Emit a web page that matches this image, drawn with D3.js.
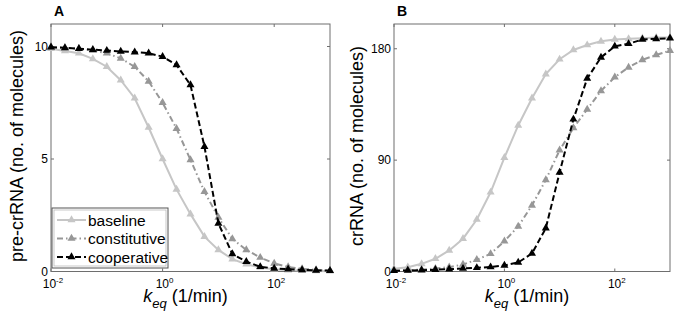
<!DOCTYPE html>
<html>
<head>
<meta charset="utf-8">
<script src="https://cdn.jsdelivr.net/npm/d3@7"></script>
<style>
  body { margin: 0; background: #fff; }
  text { font-family: "Liberation Sans", Arial, sans-serif; fill: #000; }
</style>
</head>
<body>
<div id="chart"></div>
<script>
// set svg parameters
const width = 680,
      height = 327;

// k_eq sampled every quarter decade (log10 exponents)
const logK = [-2, -1.75, -1.5, -1.25, -1, -0.75, -0.5, -0.25, 0, 0.25, 0.5,
              0.75, 1, 1.25, 1.5, 1.75, 2, 2.25, 2.5, 2.75, 3];

const seriesNames = ["baseline", "constitutive", "cooperative"];

// panel A: pre-crRNA
const preBaseline = [9.9, 9.8, 9.7, 9.45, 9.1, 8.5, 7.7, 6.4, 5.0, 3.65, 2.55,
                     1.55, 0.96, 0.55, 0.32, 0.18, 0.1, 0.06, 0.04, 0.02, 0.01];
const preConstitutive = [9.97, 9.94, 9.9, 9.82, 9.7, 9.47, 9.1, 8.45, 7.5, 6.35, 4.96,
                         3.55, 2.4, 1.45, 0.96, 0.62, 0.36, 0.2, 0.12, 0.07, 0.04];
const preCooperative = [9.97, 9.94, 9.9, 9.86, 9.82, 9.78, 9.75, 9.7, 9.55, 9.18, 8.29,
                        5.55, 2.14, 0.78, 0.44, 0.21, 0.14, 0.1, 0.07, 0.05, 0.04];

// panel B: crRNA
const crBaseline = [2.2, 3.5, 6.2, 10.3, 17, 26.5, 42, 64, 92, 118, 140,
                    159.5, 171.5, 179, 183, 186, 187.5, 188, 188.5, 189, 189];
const crConstitutive = [0.7, 1.0, 1.6, 2.4, 3.5, 5.7, 9.5, 14.3, 24.5, 36.4, 53.4,
                        74, 98, 116, 131, 146, 157, 165, 171, 175, 178.5];
const crCooperative = [0.6, 0.8, 1.0, 1.4, 1.9, 2.4, 3.0, 3.6, 4.9, 7.3, 14.6,
                       35, 80, 123, 156, 173, 182, 184, 187.5, 188, 188.5];

const xTicks = [1e-2, 1e0, 1e2];
const xTickExp = ["-2", "0", "2"];

const svg = d3.select("#chart")
  .append("svg")
    .attr("width", width)
    .attr("height", height);

// line styles per series
const styles = {
  baseline:     { color: "#c6c6c6", dash: null },
  constitutive: { color: "#979797", dash: "6,3,1.5,3" },
  cooperative:  { color: "#000000", dash: "6,3" }
};

const triangle = d3.symbol().type(d3.symbolTriangle).size(28);

const panels = [
  { letter: "A", left: 51, right: 330, yMax: 11, yTicks: [0, 5, 10],
    ylabel: "pre-crRNA (no. of molecules)", labelX: 17,
    values: [preBaseline, preConstitutive, preCooperative], legend: true },
  { letter: "B", left: 394, right: 670, yMax: 200, yTicks: [0, 90, 180],
    ylabel: "crRNA (no. of molecules)", labelX: 357,
    values: [crBaseline, crConstitutive, crCooperative], legend: false }
];

const plotTop = 24, plotBottom = 271.5;

panels.forEach(function(p) {
  const g = svg.append("g");

  const x = d3.scaleLog().domain([1e-2, 1e3]).range([p.left, p.right]);
  const y = d3.scaleLinear().domain([0, p.yMax]).range([plotBottom, plotTop]);

  // frame
  g.append("rect")
    .attr("x", p.left).attr("y", plotTop)
    .attr("width", p.right - p.left).attr("height", plotBottom - plotTop)
    .attr("fill", "none").attr("stroke", "#6e6e6e").attr("stroke-width", 1);

  // inward ticks on all four sides
  xTicks.forEach(function(t) {
    [plotBottom, plotTop].forEach(function(yy, i) {
      g.append("line")
        .attr("x1", x(t)).attr("x2", x(t))
        .attr("y1", yy).attr("y2", i === 0 ? yy - 3 : yy + 3)
        .attr("stroke", "#6e6e6e");
    });
  });
  p.yTicks.forEach(function(t) {
    [p.left, p.right].forEach(function(xx, i) {
      g.append("line")
        .attr("x1", xx).attr("x2", i === 0 ? xx + 3 : xx - 3)
        .attr("y1", y(t)).attr("y2", y(t))
        .attr("stroke", "#6e6e6e");
    });
  });

  // y tick labels
  g.selectAll(".ylab")
    .data(p.yTicks)
    .join("text")
      .attr("class", "ylab")
      .attr("x", p.left - 3)
      .attr("y", d => y(d) + 4.2)
      .attr("text-anchor", "end")
      .attr("font-size", 12)
      .text(d => d);

  // x tick labels as 10^n
  xTicks.forEach(function(t, i) {
    const tx = g.append("text")
      .attr("x", x(t) + 2)
      .attr("y", 288)
      .attr("text-anchor", "middle")
      .attr("font-size", 12);
    tx.append("tspan").text("10");
    tx.append("tspan").attr("dy", -5).attr("font-size", 8).text(xTickExp[i]);
  });

  // axis labels
  const xl = g.append("text")
    .attr("x", (p.left + p.right) / 2 - 5)
    .attr("y", 302)
    .attr("text-anchor", "middle")
    .attr("font-size", 18);
  xl.append("tspan").attr("font-style", "italic").text("k");
  xl.append("tspan").attr("font-style", "italic").attr("font-size", 13).attr("dy", 6).text("eq");
  xl.append("tspan").attr("dy", -6).text(" (1/min)");

  g.append("text")
    .attr("transform", `translate(${p.labelX + 6},146) rotate(-90)`)
    .attr("text-anchor", "middle")
    .attr("font-size", 18)
    .text(p.ylabel);

  // panel letter
  g.append("text")
    .attr("x", p.left + 3)
    .attr("y", 16)
    .attr("font-size", 14)
    .attr("font-weight", "bold")
    .text(p.letter);

  // series
  const line = d3.line()
    .x((d, i) => x(Math.pow(10, logK[i])))
    .y(d => y(d));

  p.values.forEach(function(vals, si) {
    const st = styles[seriesNames[si]];
    g.append("path")
      .datum(vals)
      .attr("d", line)
      .attr("fill", "none")
      .attr("stroke", st.color)
      .attr("stroke-width", 2)
      .attr("stroke-dasharray", st.dash);
    g.selectAll(".m" + si)
      .data(vals)
      .join("path")
        .attr("class", "m" + si)
        .attr("d", triangle)
        .attr("transform", (d, i) => `translate(${x(Math.pow(10, logK[i]))},${y(d)})`)
        .attr("fill", st.color);
  });

  // legend
  if (p.legend) {
    const lg = g.append("g").attr("transform", "translate(52,208)");
    lg.append("rect")
      .attr("width", 116).attr("height", 60)
      .attr("fill", "#fff").attr("stroke", "#555").attr("stroke-width", 1);
    lg.append("rect")
      .attr("x", 2).attr("y", 2)
      .attr("width", 112).attr("height", 56)
      .attr("fill", "none").attr("stroke", "#bbb").attr("stroke-width", 0.8);
    seriesNames.forEach(function(name, i) {
      const st = styles[name];
      const yy = 12 + i * 18.5;
      lg.append("line")
        .attr("x1", 5).attr("x2", 34)
        .attr("y1", yy).attr("y2", yy)
        .attr("stroke", st.color).attr("stroke-width", 2)
        .attr("stroke-dasharray", st.dash);
      lg.append("path")
        .attr("d", triangle)
        .attr("transform", `translate(19.5,${yy})`)
        .attr("fill", st.color);
      lg.append("text")
        .attr("x", 36).attr("y", yy + 5.5)
        .attr("font-size", 15.5)
        .text(name);
    });
  }
});
</script>
</body>
</html>
